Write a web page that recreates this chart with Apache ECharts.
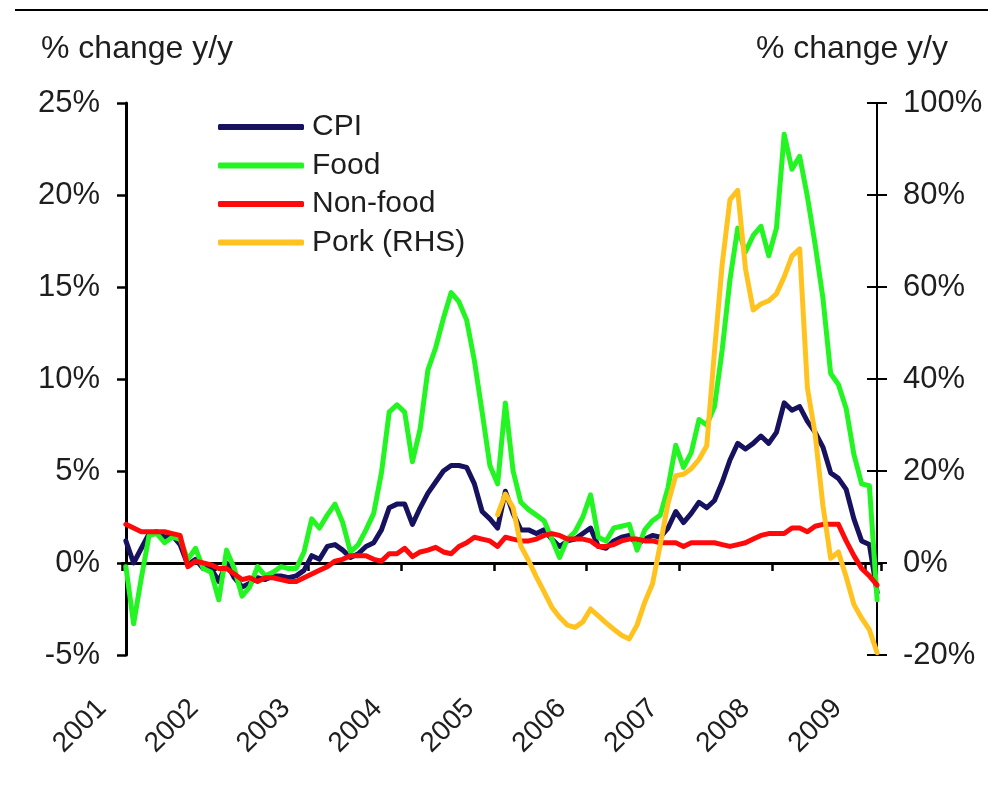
<!DOCTYPE html>
<html>
<head>
<meta charset="utf-8">
<script src="https://cdn.jsdelivr.net/npm/echarts@6/dist/echarts.min.js"></script>
<style>
  html, body { margin: 0; padding: 0; background: #fff; }
  #chart { width: 988px; height: 785px; }
</style>
</head>
<body>
<div id="chart"></div>
<script>
// ---- data (monthly, Jan 2001 - Feb 2009) ----
const yearLabels = ['2001', '2002', '2003', '2004', '2005', '2006', '2007', '2008', '2009'];
const monthsInLastYear = 2;

const cpi = [
  1.2, 0.0, 0.8, 1.6, 1.7, 1.4, 1.5, 1.0, -0.1, 0.2, -0.3, -0.3,
  -1.0, 0.0, -0.8, -1.3, -1.1, -0.8, -0.9, -0.7, -0.7, -0.8, -0.7, -0.4,
  0.4, 0.2, 0.9, 1.0, 0.7, 0.3, 0.5, 0.9, 1.1, 1.8, 3.0, 3.2,
  3.2, 2.1, 3.0, 3.8, 4.4, 5.0, 5.3, 5.3, 5.2, 4.3, 2.8, 2.4,
  1.9, 3.9, 2.7, 1.8, 1.8, 1.6, 1.8, 1.3, 0.9, 1.2, 1.3, 1.6,
  1.9, 0.9, 0.8, 1.2, 1.4, 1.5, 1.0, 1.3, 1.5, 1.4, 1.9, 2.8,
  2.2, 2.7, 3.3, 3.0, 3.4, 4.4, 5.6, 6.5, 6.2, 6.5, 6.9, 6.5,
  7.1, 8.7, 8.3, 8.5, 7.7, 7.1, 6.3, 4.9, 4.6, 4.0, 2.4, 1.2,
  1.0, -1.6
];

const food = [
  -0.2, -3.3, -0.8, 1.5, 1.6, 1.1, 1.4, 1.3, 0.2, 0.8, -0.3, -0.5,
  -2.0, 0.7, -0.3, -1.8, -1.3, -0.2, -0.7, -0.5, -0.2, -0.3, -0.3, 0.6,
  2.4, 1.9, 2.6, 3.2, 2.2, 0.6, 1.0, 1.8, 2.7, 4.9, 8.2, 8.6,
  8.2, 5.5, 7.3, 10.5, 11.7, 13.3, 14.7, 14.2, 13.2, 11.0, 8.2, 5.3,
  4.3, 8.7, 5.0, 3.3, 2.9, 2.6, 2.3, 1.3, 0.3, 1.3, 1.7, 2.5,
  3.7, 1.4, 1.2, 1.9, 2.0, 2.1, 0.7, 1.8, 2.3, 2.6, 4.1, 6.4,
  5.2, 6.0, 7.8, 7.5, 8.5, 11.6, 15.4, 18.2, 16.9, 17.8, 18.3, 16.7,
  18.2, 23.3, 21.4, 22.1, 19.9, 17.3, 14.4, 10.3, 9.7, 8.4, 5.9, 4.3,
  4.2, -2.0
];

const nonFood = [
  2.1, 1.9, 1.7, 1.7, 1.7, 1.7, 1.6, 1.5, -0.2, 0.1, 0.0, -0.1,
  -0.3, -0.3, -0.6, -0.9, -0.8, -1.0, -0.8, -0.8, -0.9, -1.0, -1.0, -0.8,
  -0.6, -0.4, -0.2, 0.1, 0.2, 0.4, 0.4, 0.4, 0.2, 0.1, 0.5, 0.5,
  0.8, 0.35, 0.6, 0.7, 0.85, 0.6, 0.5, 0.9, 1.1, 1.4, 1.3, 1.2,
  0.9, 1.4, 1.3, 1.2, 1.2, 1.3, 1.5, 1.6, 1.5, 1.3, 1.3, 1.3,
  1.2, 0.9, 0.9, 1.0, 1.2, 1.3, 1.3, 1.2, 1.2, 1.1, 1.1, 1.1,
  0.9, 1.1, 1.1, 1.1, 1.1, 1.0, 0.9, 1.0, 1.1, 1.3, 1.5, 1.6,
  1.6, 1.6, 1.9, 1.9, 1.7, 2.0, 2.1, 2.1, 2.1, 1.2, 0.4, -0.3,
  -0.7, -1.2
];

// Pork (RHS) begins Jan 2005
const pork = [
  null, null, null, null, null, null, null, null, null, null, null, null,
  null, null, null, null, null, null, null, null, null, null, null, null,
  null, null, null, null, null, null, null, null, null, null, null, null,
  null, null, null, null, null, null, null, null, null, null, null, null,
  10.5, 15.0, 12.0, 3.7, 0.5, -3.0, -6.3, -9.6, -11.8, -13.5, -14.0, -12.8,
  -10.0, -11.5, -13.0, -14.4, -15.7, -16.5, -13.5, -8.5, -4.5, 4.0, 13.0, 19.0,
  19.3, 20.5, 22.5, 25.5, 46.0, 65.0, 79.0, 81.0, 64.0, 55.0, 56.3, 57.0,
  58.5, 62.2, 66.7, 68.3, 38.0, 28.0, 12.5, 1.0, 2.4, -3.0, -9.0, -12.0,
  -14.5, -19.5
];

// ---- categories: one per month ----
const months = [];
yearLabels.forEach((y, yi) => {
  const n = yi === yearLabels.length - 1 ? monthsInLastYear : 12;
  for (let m = 1; m <= n; m++) months.push(y + '-' + (m < 10 ? '0' + m : m));
});

const FONT = 'Liberation Sans, Arial, sans-serif';
const TXT = '#1e1e1e';
const colors = { cpi: '#17125f', food: '#22f522', nonFood: '#ff0a0a', pork: '#ffc21e' };

const chart = echarts.init(document.getElementById('chart'), null, { renderer: 'canvas' });

function lineSeries(name, data, color, yIdx) {
  return {
    name, type: 'line', data, xAxisIndex: 0, yAxisIndex: yIdx,
    showSymbol: false, symbol: 'none', connectNulls: false,
    lineStyle: { color, width: 5, cap: 'round', join: 'round' },
    itemStyle: { color },
    emphasis: { disabled: true },
    animation: false
  };
}

const option = {
  animation: false,
  backgroundColor: '#ffffff',
  textStyle: { fontFamily: FONT },
  title: [
    { text: '% change y/y', left: 41, top: 33, padding: 0,
      textStyle: { fontFamily: FONT, fontSize: 32, fontWeight: 'normal', color: TXT } },
    { text: '% change y/y', right: 40, top: 33, padding: 0,
      textStyle: { fontFamily: FONT, fontSize: 32, fontWeight: 'normal', color: TXT } }
  ],
  graphic: [
    { type: 'line', shape: { x1: 15, y1: 10, x2: 988, y2: 10 },
      style: { stroke: '#000', lineWidth: 2 } }
  ],
  legend: {
    orient: 'vertical', left: 218, top: 112, padding: 0,
    icon: 'roundRect', itemWidth: 86, itemHeight: 6, itemGap: 8.5,
    data: ['CPI', 'Food', 'Non-food', 'Pork (RHS)'],
    textStyle: { fontFamily: FONT, fontSize: 30, lineHeight: 30, color: TXT, padding: [0, 0, 0, 3] },
    selectedMode: false
  },
  grid: [
    { left: 122, right: 107, top: 103, bottom: 130 },
    { left: 98.2, right: 139, top: 103, bottom: 130 }
  ],
  xAxis: [
    { // zero line with year-boundary ticks
      type: 'category', gridIndex: 0, data: months, boundaryGap: true,
      axisLine: { show: true, onZero: true, onZeroAxisIndex: 0, lineStyle: { color: '#000', width: 3 } },
      axisTick: { show: true, interval: 11, length: 8, lineStyle: { color: '#000', width: 2.5 } },
      axisLabel: { show: false },
      splitLine: { show: false }
    },
    { // year labels
      type: 'category', gridIndex: 1, data: months, boundaryGap: true, position: 'bottom',
      axisLine: { show: false, onZero: false },
      axisTick: { show: false },
      axisLabel: {
        show: true, interval: 11, rotate: 45, margin: 49,
        fontFamily: FONT, fontSize: 28, color: TXT,
        formatter: v => v.slice(0, 4)
      },
      splitLine: { show: false }
    }
  ],
  yAxis: [
    {
      type: 'value', gridIndex: 0, position: 'left', offset: -4,
      min: -5, max: 25, interval: 5,
      axisLine: { show: true, lineStyle: { color: '#000', width: 3 } },
      axisTick: { show: true, inside: false, length: 9, lineStyle: { color: '#000', width: 2.5 } },
      axisLabel: { formatter: '{value}%', fontFamily: FONT, fontSize: 31, color: TXT, margin: 26 },
      splitLine: { show: false }
    },
    {
      type: 'value', gridIndex: 0, position: 'right', offset: -4,
      min: -20, max: 100, interval: 20,
      axisLine: { show: true, lineStyle: { color: '#000', width: 2 } },
      axisTick: { show: true, inside: false, length: 10, lineStyle: { color: '#000', width: 2 } },
      axisLabel: { formatter: '{value}%', fontFamily: FONT, fontSize: 31, color: TXT, margin: 26 },
      splitLine: { show: false }
    },
    {
      type: 'value', gridIndex: 0, position: 'right', offset: -4,
      min: -20, max: 100, interval: 20,
      axisLine: { show: false },
      axisTick: { show: true, inside: true, length: 10, lineStyle: { color: '#000', width: 2 } },
      axisLabel: { show: false },
      splitLine: { show: false }
    },
    {
      type: 'value', gridIndex: 1, min: -5, max: 25, show: false,
      splitLine: { show: false }
    }
  ],
  series: [
    lineSeries('CPI', cpi, colors.cpi, 0),
    lineSeries('Food', food, colors.food, 0),
    lineSeries('Non-food', nonFood, colors.nonFood, 0),
    lineSeries('Pork (RHS)', pork, colors.pork, 1)
  ]
};

chart.setOption(option);
</script>
</body>
</html>
